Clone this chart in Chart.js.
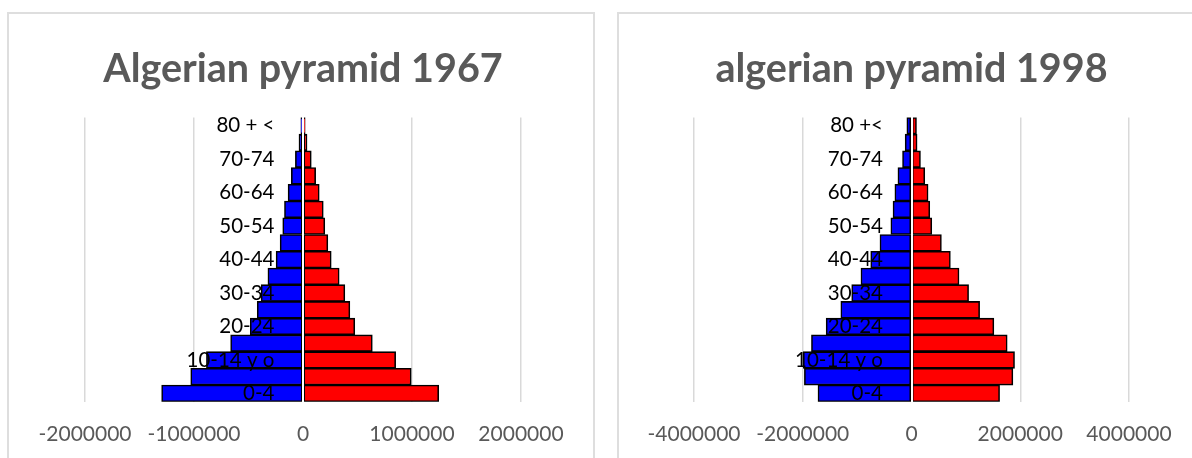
<!DOCTYPE html>
<html>
<head>
<meta charset="utf-8">
<script src="https://cdn.jsdelivr.net/npm/chart.js@4.4.1/dist/chart.umd.min.js"></script>
<style>
  html, body { margin: 0; padding: 0; background: #ffffff; overflow: hidden; width: 1192px; height: 458px; }
  .box { position: absolute; top: 12px; border: 2px solid #dedede; border-bottom: none; background: #fff; }
  #box1 { left: 7px; }
  #box2 { left: 617px; }
  canvas { display: block; }
</style>
</head>
<body>
<div class="box" id="box1"><canvas id="c1" width="584" height="465"></canvas></div>
<div class="box" id="box2"><canvas id="c2" width="584" height="465"></canvas></div>
<script>
// Age groups (bottom to top)
const ageGroups = ["0-4", "5-9", "10-14 y o", "15-19", "20-24", "25-29", "30-34", "35-39", "40-44",
                   "45-49", "50-54", "55-59", "60-64", "65-69", "70-74", "75-79", "80 + <"];
const ageGroups1998 = ["0-4", "5-9", "10-14 y o", "15-19", "20-24", "25-29", "30-34", "35-39", "40-44",
                   "45-49", "50-54", "55-59", "60-64", "65-69", "70-74", "75-79", "80 +<"];

// 1967 (males shown as negative values)
const males1967 = [-1297000, -1030000, -886000, -664000, -484000, -420000, -384000, -322000, -247000,
                   -210000, -186000, -170000, -137000, -107000, -70000, -37000, -20000];
const females1967 = [1245000, 993000, 850000, 636000, 475000, 430000, 384000, 332000, 259000,
                     228000, 200000, 186000, 149000, 116000, 76000, 37000, 20000];

// 1998
const males1998 = [-1720000, -1970000, -1990000, -1840000, -1570000, -1300000, -1100000, -930000, -750000,
                   -580000, -380000, -340000, -306000, -250000, -165000, -117000, -86000];
const females1998 = [1620000, 1865000, 1895000, 1760000, 1515000, 1253000, 1050000, 874000, 715000,
                     550000, 373000, 336000, 305000, 244000, 165000, 103000, 92000];

const titles = ["Algerian pyramid 1967", "algerian pyramid 1998"];
const xLimits = [[-2000000, 2000000, 1000000], [-4000000, 4000000, 2000000]];
// x value at which the (right-aligned) age labels end
const labelAnchor = [-262000, -525000];

const FONT = "Lato, 'Open Sans', sans-serif";

function makeChart(canvasId, labels, males, females, title, lim, anchor, pad) {
  return new Chart(document.getElementById(canvasId), {
    type: 'bar',
    data: {
      labels: labels,
      datasets: [
        { label: 'Male', data: males, backgroundColor: '#0000FF', borderColor: '#000000',
          borderWidth: 1.6, borderSkipped: false, barPercentage: 1.0, categoryPercentage: 1.0 },
        { label: 'Female', data: females, backgroundColor: '#FF0000', borderColor: '#000000',
          borderWidth: 1.6, borderSkipped: false, barPercentage: 1.0, categoryPercentage: 1.0 }
      ]
    },
    options: {
      indexAxis: 'y',
      responsive: false,
      animation: false,
      events: [],
      layout: { padding: { left: pad.left, right: pad.right, top: 0, bottom: 12 } },
      plugins: {
        legend: { display: false },
        tooltip: { enabled: false },
        title: {
          display: true,
          text: title,
          color: '#595959',
          font: { family: FONT, size: 39.5, weight: 'bold' },
          padding: { top: 32, bottom: 24 }
        }
      },
      scales: {
        x: {
          stacked: true,
          min: lim[0], max: lim[1],
          ticks: {
            stepSize: lim[2],
            color: '#595959',
            font: { family: FONT, size: 21 },
            padding: 20,
            callback: (v) => String(v)
          },
          grid: { color: '#d9d9d9', lineWidth: 1.5, drawTicks: false },
          border: { display: false }
        },
        y: {
          stacked: true,
          reverse: true,
          position: { x: 0 },
          grid: { display: false, drawTicks: false },
          border: { display: true, color: '#ffffff', width: 2, z: 1 },
          ticks: { display: false, padding: 0 }
        },
        yLabels: {
          type: 'category',
          axis: 'y',
          reverse: true,
          position: { x: anchor },
          grid: { display: false, drawTicks: false },
          border: { display: false },
          ticks: {
            z: 1,
            autoSkip: false,
            padding: 0,
            color: '#000000',
            font: { family: FONT, size: 20.5 },
            callback: function(v, i) { return i % 2 === 0 ? this.getLabelForValue(v) : ''; }
          }
        }
      }
    }
  });
}

makeChart('c1', ageGroups, males1967, females1967, titles[0], xLimits[0], labelAnchor[0], { left: 76, right: 72 });
makeChart('c2', ageGroups1998, males1998, females1998, titles[1], xLimits[1], labelAnchor[1], { left: 75, right: 74 });
</script>
</body>
</html>
